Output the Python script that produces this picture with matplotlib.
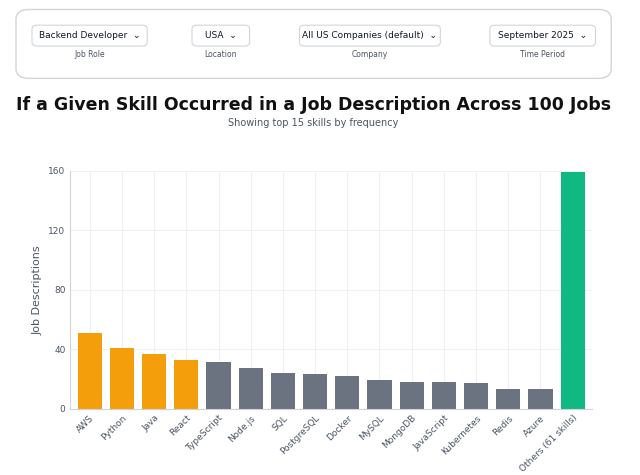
import matplotlib
matplotlib.use("Agg")
import matplotlib.pyplot as plt
from matplotlib.patches import FancyBboxPatch

skills = ["AWS","Python","Java","React","TypeScript","Node.js","SQL","PostgreSQL","Docker","MySQL","MongoDB","JavaScript","Kubernetes","Redis","Azure","Others (61 skills)"]
counts = [51,41,37,33,31,27,24,23,22,19,18,18,17,13,13,159]
colors = ["#f59e0b"]*4 + ["#6b7280"]*11 + ["#10b981"]
filters = [("Backend Developer","Job Role"),("USA","Location"),("All US Companies (default)","Company"),("September 2025","Time Period")]
fx = [0.14,0.345,0.578,0.848]
fw = [0.18,0.09,0.22,0.165]

fig = plt.figure(figsize=(6.4,4.75), dpi=100)
panel = FancyBboxPatch((0.025,0.835),0.93,0.145, boxstyle="round,pad=0,rounding_size=0.02",
                       transform=fig.transFigure, fc="white", ec="#d1d5db", lw=1)
fig.add_artist(panel)
for (val,lab),x,w in zip(filters,fx,fw):
    b = FancyBboxPatch((x-w/2,0.903),w,0.044, boxstyle="round,pad=0,rounding_size=0.008",
                       transform=fig.transFigure, fc="white", ec="#d1d5db", lw=0.8)
    fig.add_artist(b)
    fig.text(x,0.925,val+"  ⌄",ha="center",va="center",fontsize=6.5,color="#111827")
    fig.text(x,0.885,lab,ha="center",va="center",fontsize=5.5,color="#4b5563")
fig.text(0.49,0.78,"If a Given Skill Occurred in a Job Description Across 100 Jobs",
         ha="center",va="center",fontsize=12.5,fontweight="bold",color="#111")
fig.text(0.49,0.74,"Showing top 15 skills by frequency",ha="center",va="center",fontsize=7,color="#4b5563")

ax = fig.add_axes([0.11,0.14,0.815,0.5])
ax.bar(range(len(skills)),counts,color=colors,width=0.75)
ax.set_ylim(0,160)
ax.set_yticks([0,40,80,120,160])
ax.set_xlim(-0.6,len(skills)-0.4)
ax.set_xticks(range(len(skills)))
ax.set_xticklabels(skills,rotation=45,ha="right",fontsize=6.5,color="#4b5563",rotation_mode="anchor")
ax.tick_params(axis="y",labelsize=6.5,colors="#4b5563",length=0)
ax.tick_params(axis="x",length=0)
ax.set_ylabel("Job Descriptions",fontsize=8,color="#4b5563")
ax.grid(True,color="#eef0f3",lw=0.8)
ax.set_axisbelow(True)
for s in ["top","right"]:
    ax.spines[s].set_visible(False)
ax.spines["left"].set_color("#d1d5db")
ax.spines["bottom"].set_color("#d1d5db")
fig.savefig("out.png",dpi=100)
